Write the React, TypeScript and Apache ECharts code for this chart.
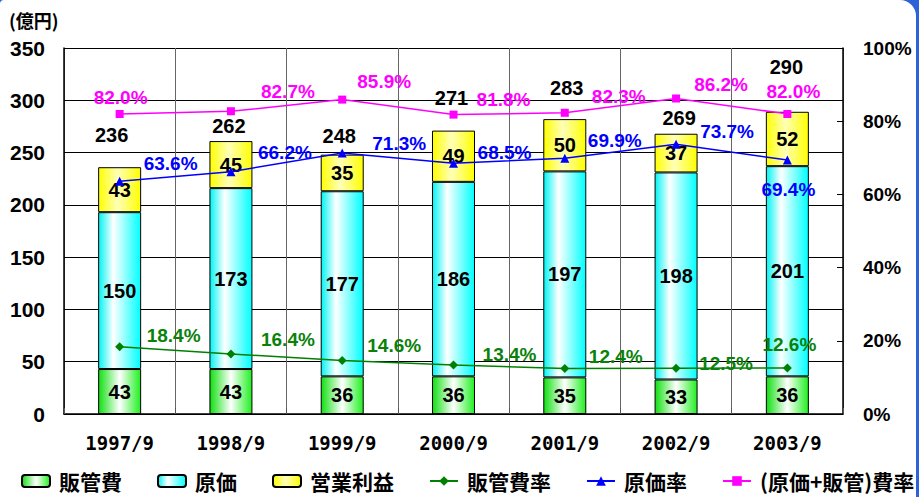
import React, { useEffect, useRef } from 'react';
import * as echarts from 'echarts';

// ---- data ----
const categories = ['1997/9', '1998/9', '1999/9', '2000/9', '2001/9', '2002/9', '2003/9'];
const sgaCost = [43, 43, 36, 36, 35, 33, 36]; // 販管費
const costOfSales = [150, 173, 177, 186, 197, 198, 201]; // 原価
const operatingProfit = [43, 45, 35, 49, 50, 37, 52]; // 営業利益
const totals = [236, 262, 248, 271, 283, 269, 290];
const sgaRatio = [18.4, 16.4, 14.6, 13.4, 12.4, 12.5, 12.6]; // 販管費率
const costRatio = [63.6, 66.2, 71.3, 68.5, 69.9, 73.7, 69.4]; // 原価率
const combinedRatio = [82.0, 82.7, 85.9, 81.8, 82.3, 86.2, 82.0]; // (原価+販管)費率
const leftAxis = { min: 0, max: 350, interval: 50 };
const rightAxis = { min: 0, max: 100, interval: 20 };

// ---- label layout (offsets from the point, px) ----
const totalOffsets = [[-8, -32], [-2, -14], [-3, -19], [-2, -33], [2, -30], [3, -15], [-1, -44]];
const combinedOffsets = [[1, -16], [57, -20], [42, -18], [50, -15], [54, -16], [45, -14], [6, -22]];
const costOffsets = [[51, -18], [54, -19], [57, -10], [51, -11], [50, -18], [51, -13], [1, 30]];
const sgaOffsets = [[54, -11], [57, -14], [52, -15], [56, -10], [51, -12], [50, -5], [2, -23]];

const NUM_FONT = '"Liberation Sans", Arial, sans-serif';
const JP_FONT = '"Noto Sans CJK JP", "Noto Sans", sans-serif';

const grad = (edgeL: string, mid: string, edgeR: string, midPos: number) => ({
  type: 'linear', x: 0, y: 0, x2: 1, y2: 0,
  colorStops: [
    { offset: 0, color: edgeL },
    { offset: midPos, color: mid },
    { offset: 1, color: edgeR },
  ],
});

const withOffsets = (vals: number[], offs: number[][]) =>
  vals.map((v, i) => ({ value: v, label: { offset: offs[i] } }));

export default function App() {
  const ref = useRef<HTMLDivElement>(null);
  useEffect(() => {
    const chart = echarts.init(ref.current!, undefined, { renderer: 'svg' });
    const barLabel = {
      show: true, position: 'inside', color: '#000',
      fontFamily: NUM_FONT, fontWeight: 'bold', fontSize: 20,
    };
    const pctLabel = (color: string) => ({
      show: true, position: 'inside', color,
      fontFamily: NUM_FONT, fontWeight: 'bold', fontSize: 19,
      formatter: (p: any) => `${Number(p.value).toFixed(1)}%`,
    });
    const barCommon = {
      type: 'bar', stack: 'total', barWidth: 43, yAxisIndex: 0,
      label: barLabel,
    };
    chart.setOption({
      animation: false,
      backgroundColor: 'transparent',
      grid: { left: 64, right: 916 - 843, top: 48, bottom: 497 - 414, containLabel: false, outerBoundsMode: 'none' },
      graphic: [
        {
          type: 'text', left: 9, top: 11,
          style: { text: '(億円)', fontFamily: JP_FONT, fontWeight: 'bold', fontSize: 18, fill: '#000' },
        },
      ],
      legend: {
        left: 16, top: 464, width: 1400,
        itemWidth: 28, itemHeight: 12, itemGap: 35,
        data: ['販管費', '原価', '営業利益', '販管費率', '原価率', '(原価+販管)費率'],
        textStyle: { fontFamily: JP_FONT, fontWeight: 'bold', fontSize: 21, lineHeight: 24, color: '#000', padding: [0, 0, 0, 4] },
      },
      xAxis: {
        type: 'category', data: categories, boundaryGap: true,
        axisLine: { lineStyle: { color: '#000', width: 1.5 } },
        axisTick: { show: true, inside: true, length: 6, lineStyle: { color: '#555' } },
        splitLine: { show: true, lineStyle: { color: '#666', width: 1 } },
        axisLabel: { margin: 19, color: '#000', fontFamily: '"DejaVu Sans Mono", monospace', fontWeight: 'bold', fontSize: 19 },
      },
      yAxis: [
        {
          type: 'value', ...leftAxis,
          axisLine: { show: true, lineStyle: { color: '#000', width: 1.5 } },
          axisTick: { show: true, inside: true, length: 6, lineStyle: { color: '#000' } },
          splitLine: { show: true, lineStyle: { color: '#000', width: 1 } },
          axisLabel: { margin: 19, color: '#000', fontFamily: NUM_FONT, fontWeight: 'bold', fontSize: 21, padding: [6, 0, 0, 0] },
        },
        {
          type: 'value', ...rightAxis, position: 'right',
          axisLine: { show: true, lineStyle: { color: '#000', width: 1.5 } },
          axisTick: { show: true, inside: true, length: 6, lineStyle: { color: '#000' } },
          splitLine: { show: false },
          axisLabel: { margin: 20, color: '#000', fontFamily: NUM_FONT, fontWeight: 'bold', fontSize: 19, formatter: '{value}%', padding: [6, 0, 0, 0] },
        },
      ],
      series: [
        {
          ...barCommon, name: '販管費', data: sgaCost,
          itemStyle: { color: grad('#10e010', '#ffffff', '#20f020', 0.5), borderColor: '#000', borderWidth: 1 },
        },
        {
          ...barCommon, name: '原価', data: costOfSales,
          itemStyle: { color: grad('#00f4f4', '#ffffff', '#00ffff', 0.35), borderColor: '#000', borderWidth: 1 },
        },
        {
          ...barCommon, name: '営業利益', data: operatingProfit,
          itemStyle: { color: grad('#ffff00', '#ffffb8', '#ffff00', 0.45), borderColor: '#000', borderWidth: 1 },
        },
        {
          type: 'line', name: 'totals', yAxisIndex: 0, silent: true, z: 5,
          data: withOffsets(totals, totalOffsets),
          symbol: 'circle', symbolSize: 2,
          lineStyle: { opacity: 0 },
          itemStyle: { color: 'rgba(0,0,0,0)' },
          label: { ...barLabel, fontSize: 20 },
        },
        {
          type: 'line', name: '販管費率', yAxisIndex: 1, z: 6,
          data: withOffsets(sgaRatio, sgaOffsets),
          symbol: 'diamond', symbolSize: 9,
          lineStyle: { color: '#008000', width: 1.5 },
          itemStyle: { color: '#008000' },
          label: pctLabel('#0a820a'),
        },
        {
          type: 'line', name: '原価率', yAxisIndex: 1, z: 6,
          data: withOffsets(costRatio, costOffsets),
          symbol: 'triangle', symbolSize: 9,
          lineStyle: { color: '#0000ff', width: 1.5 },
          itemStyle: { color: '#0000ff' },
          label: pctLabel('#0000ff'),
        },
        {
          type: 'line', name: '(原価+販管)費率', yAxisIndex: 1, z: 6,
          data: withOffsets(combinedRatio, combinedOffsets),
          symbol: 'rect', symbolSize: 8,
          lineStyle: { color: '#ff00ff', width: 1.5 },
          itemStyle: { color: '#ff00ff' },
          label: pctLabel('#ff00ff'),
        },
      ],
    });
    return () => chart.dispose();
  }, []);

  useEffect(() => {
    document.documentElement.style.overflow = 'hidden';
    document.body.style.overflow = 'hidden';
  }, []);

  return (
    <div style={{ position: 'fixed', left: 0, top: 0, width: 919, height: 497, background: '#2e62d8', overflow: 'hidden' }}>
      <div style={{ position: 'absolute', left: 0, top: 0, width: 916, height: 497, background: '#fff', borderTopRightRadius: 16, borderTopLeftRadius: 4, overflow: 'hidden' }}>
        <div ref={ref} style={{ width: 916, height: 497 }} />
      </div>
    </div>
  );
}
